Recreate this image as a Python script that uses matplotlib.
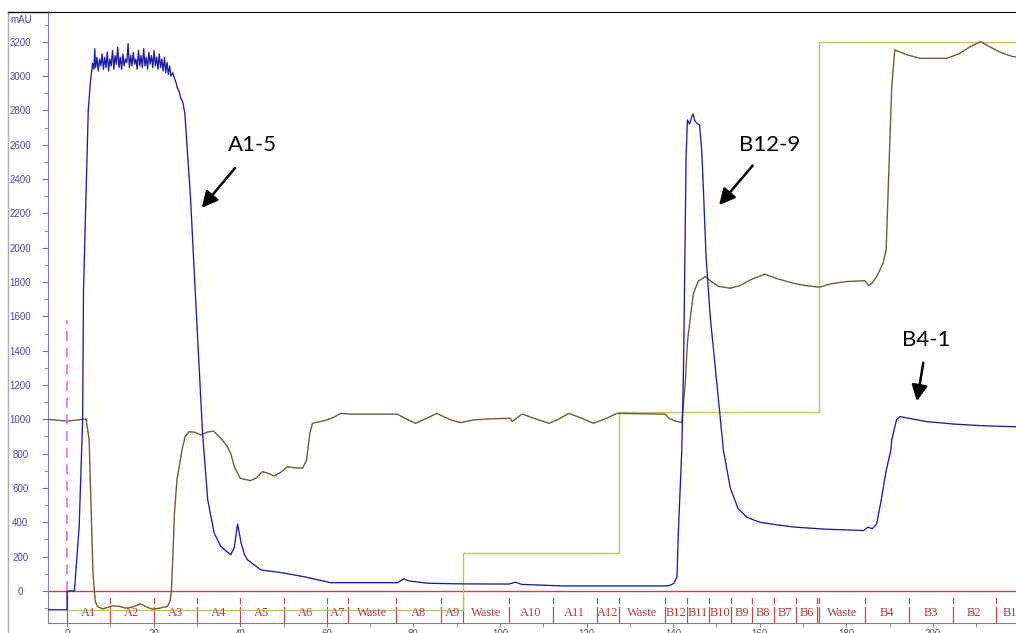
# chromatogram with fraction collector marks
import numpy as np
import matplotlib.pyplot as plt
from matplotlib.lines import Line2D
from matplotlib.ticker import MultipleLocator

# UV trace (mAU)
uv_x = [-4.4, 0, 0, 1.7, 2.8, 3.6, 3.8, 4.4, 4.9, 5.4,
        5.9, 6.2, 6.4, 6.6, 6.9, 7.2, 7.5, 7.8, 8.1, 8.4, 8.7, 9.0, 9.3, 9.6, 9.9,
        10.2, 10.5, 10.8, 11.1, 11.4, 11.7, 12.0, 12.3, 12.6, 12.9, 13.2, 13.5, 13.8,
        14.1, 14.4, 14.7, 15.0, 15.3, 15.6, 15.9, 16.2, 16.5, 16.8, 17.1, 17.4, 17.7,
        18.0, 18.3, 18.6, 18.9, 19.2, 19.5, 19.8, 20.1, 20.4, 20.7, 21.0, 21.3, 21.6,
        21.9, 22.2, 22.5, 22.8, 23.1, 23.4, 23.7, 24.0, 24.4, 24.8, 25.2, 25.5, 25.9,
        26.3, 26.7, 27.2, 28.5, 29.7, 30.9, 31.3, 32.5, 34.0, 35.5, 37.8, 38.6, 39.4,
        40.2, 41.0, 41.7, 44.8, 49.4, 54.7, 60.9, 76.3, 77.8, 79.0, 83.2, 88.6, 91.6,
        102.0, 103.6, 105.0, 114.7, 138.6, 139.5, 140.2, 140.9, 141.2, 142.0, 142.4,
        143.0, 143.3, 143.8, 144.3, 144.6, 145.0, 145.5, 146.1, 146.6, 147.0, 147.6,
        148.6, 150.1, 151.6, 153.2, 155.0, 157.0, 160.0, 164.0, 168.0, 175.0, 184.0,
        185.0, 186.0, 187.0, 188.0, 189.2, 190.3, 190.5, 191.6, 192.4, 198.5, 205.0,
        212.0, 219.2]
uv_y = [-110, -110, 0, 0, 375, 997, 1754, 2319, 2803, 2968,
        3075, 3040, 3160, 3050, 3110, 3030, 3100, 3060, 3130, 3040, 3110, 3050, 3140, 3030, 3100,
        3060, 3150, 3040, 3120, 3070, 3170, 3050, 3110, 3040, 3130, 3060, 3100, 3080,
        3190, 3050, 3120, 3060, 3140, 3070, 3100, 3040, 3150, 3060, 3120, 3050, 3160,
        3060, 3110, 3040, 3140, 3070, 3120, 3050, 3150, 3060, 3110, 3040, 3130, 3050,
        3100, 3030, 3110, 3020, 3080, 3010, 3060, 3000, 3020, 2988, 2960, 2930, 2910,
        2870, 2852, 2785, 2300, 1700, 1113, 919, 530, 336, 260, 210, 250, 390,
        280, 210, 181, 122, 107, 83, 48, 48, 70, 58, 45, 42, 41,
        40, 51, 38, 29, 29, 35, 45, 83, 338, 822, 1300,
        2531, 2745, 2720, 2764, 2780, 2740, 2725, 2716, 2570, 2337, 1948,
        1590, 1210, 822, 600, 480, 430, 400, 385, 372, 360, 352,
        372, 362, 390, 520, 700, 822, 880, 997, 1016, 987, 972,
        962, 957]

# conductivity-type trace
cond_x = [-4.4, 0, 2.0, 4.4, 5.1, 5.5, 6.0, 6.5, 7.0, 7.8, 8.2, 9.5, 10.5, 12.0, 13.5,
          15.0, 17.0, 18.5, 19.8, 21.5, 23.2, 23.8, 24.1, 24.4, 24.8, 25.4, 25.9, 26.6,
          27.3, 28.2, 29.5, 30.9, 32.3, 33.8, 35.5, 36.8, 37.8, 38.7, 40.0, 41.0, 42.4,
          43.8, 45.1, 46.5, 47.8, 49.3, 50.9, 52.5, 54.4, 55.3, 56.1, 56.7, 59.4, 61.5,
          63.2, 65.5, 76.3, 78.5, 80.5, 83.0, 85.4, 88.6, 90.9, 94.0, 98.0, 102.4, 102.8,
          105.1, 108.0, 111.3, 113.5, 115.9, 119.0, 121.6, 124.5, 127.0, 138.2, 139.0,
          140.5, 142.0, 142.8, 143.3, 144.0, 144.7, 145.8, 147.4, 149.0, 150.5, 153.2,
          155.5, 158.0, 161.2, 164.0, 167.8, 170.5, 173.8, 176.5, 180.1, 184.3, 185.1,
          186.0, 187.0, 188.5, 189.2, 190.1, 190.5, 191.2, 194.0, 197.0, 203.2, 206.0,
          208.5, 211.0, 214.0, 216.0, 218.5, 219.2]
cond_y = [1000, 990, 995, 1002, 880, 530, 100, -60, -90, -100, -105, -95, -87, -90, -100,
          -95, -75, -95, -107, -100, -90, -60, 0, 180, 450, 650, 724, 830,
          900, 928, 925, 909, 925, 932, 890, 850, 802, 720, 657, 650, 643,
          660, 695, 685, 670, 690, 724, 718, 715, 760, 920, 977, 992, 1010,
          1035, 1030, 1030, 1000, 977, 1005, 1035, 997, 981, 997, 1003, 1006, 987,
          1031, 1005, 977, 1000, 1035, 1005, 977, 1005, 1035, 1030, 1006,
          990, 981, 1212, 1450, 1599, 1735, 1805, 1832, 1800, 1775, 1764,
          1780, 1815, 1846, 1820, 1793, 1780, 1770, 1790, 1803, 1808, 1779,
          1795, 1832, 1910, 1987, 2647, 2939, 3153, 3125, 3104, 3104, 3130,
          3170, 3201, 3160, 3135, 3114, 3112]

# gradient steps
grad_x = [0, 91.5, 127.6, 173.8, 219.2]
grad_y = [-110, 222, 1045, 3201, 3201]

# fraction collector
frac_edges = [0, 10, 20, 30, 40, 50, 60, 65, 76, 86.4, 91.5, 102, 112.3, 122.3, 127.5,
              138.2, 143.3, 148.3, 153.4, 158.3, 163.2, 168.4, 173.2, 173.7, 184.3,
              194.5, 204.6, 214.5, 221]
frac_labels = ['A1', 'A2', 'A3', 'A4', 'A5', 'A6', 'A7', 'Waste', 'A8', 'A9', 'Waste',
               'A10', 'A11', 'A12', 'Waste', 'B12', 'B11', 'B10', 'B9', 'B8', 'B7', 'B6',
               '', 'Waste', 'B4', 'B3', 'B2', 'B1']

# callouts: text, text position, arrow tail, arrow head
notes = [('A1-5', (42.9, 2600), (39.2, 2477), (30.7, 2220)),
         ('B12-9', (162.4, 2600), (158.8, 2492), (150.2, 2236)),
         ('B4-1', (198.5, 1463), (197.9, 1346), (196.2, 1090))]

W, H = 1016, 633
fig = plt.figure(figsize=(W / 100, H / 100), dpi=100)
ax = fig.add_axes([48 / W, 1 - 623 / H, 1 - 48 / W, (623 - 12) / H])

red = '#c04848'
ax.axhline(0, color=red, lw=1.0, zorder=2)
ax.plot(grad_x, grad_y, color='#b8cc4c', lw=1.0, drawstyle='steps-post', zorder=3)
ax.plot(cond_x, cond_y, color='#6e5c38', lw=1.0, zorder=4)
ax.plot(uv_x, uv_y, color='#1c1ca6', lw=0.95, zorder=5)
ax.plot([0, 0], [0, 1580], color='#e070e0', lw=1.2, dashes=(6, 4), zorder=6)

# fraction marks and labels
for e in frac_edges[:-1]:
    if e == 0:
        ax.plot([e, e], [0, -190], color=red, lw=0.9, zorder=2)
        continue
    ax.plot([e, e], [-40, -70], color=red, lw=0.9, zorder=2)
    ax.plot([e, e], [-92, -190], color=red, lw=0.9, zorder=2)
for i, lab in enumerate(frac_labels):
    if lab:
        ax.text((frac_edges[i] + frac_edges[i + 1]) / 2, -128, lab, ha='center', va='center',
                fontsize=9, family='Liberation Serif', color='#b03a3a', zorder=7)

for txt, tpos, tail, head in notes:
    ax.text(tpos[0], tpos[1], txt, ha='center', va='center', fontsize=16, family='Lato')
    ax.annotate('', xy=head, xytext=tail,
                arrowprops=dict(arrowstyle='-|>', color='black', lw=1.8, mutation_scale=24))

ax.set_xlim(-4.4, 219.2)
ax.set_ylim(-187, 3374)

ax.xaxis.set_major_locator(MultipleLocator(20))
ax.xaxis.set_minor_locator(MultipleLocator(10))
ax.yaxis.set_minor_locator(MultipleLocator(100))
ax.set_yticks(np.arange(0, 3201, 200))

ax.spines['right'].set_visible(False)
ax.spines['top'].set_color('black')
ax.spines['left'].set_color('#8080b0')
ax.spines['bottom'].set_color('#808080')

ax.tick_params(axis='y', which='both', colors='#7070b0', labelcolor='#4848a0',
               labelsize=7, pad=16, length=4)
ax.tick_params(axis='y', which='minor', length=3)
ax.tick_params(axis='x', which='both', colors='#808080', labelcolor='#505050',
               labelsize=7, length=3, pad=1)
for lab in ax.get_yticklabels():
    lab.set_horizontalalignment('center')
    lab.set_family('Liberation Sans')
for lab in ax.get_xticklabels():
    lab.set_family('Liberation Sans')

fig.text(10 / W, 1 - 20 / H, 'mAU', fontsize=7, color='#4848a0', va='center',
         family='Liberation Sans')
fig.add_artist(Line2D([8 / W, 8 / W], [0, 1 - 12 / H], color='#b0b0b0', lw=1))
fig.add_artist(Line2D([8 / W, 48 / W], [1 - 12 / H, 1 - 12 / H], color='black', lw=1))

fig.savefig('out.png', dpi=100)
